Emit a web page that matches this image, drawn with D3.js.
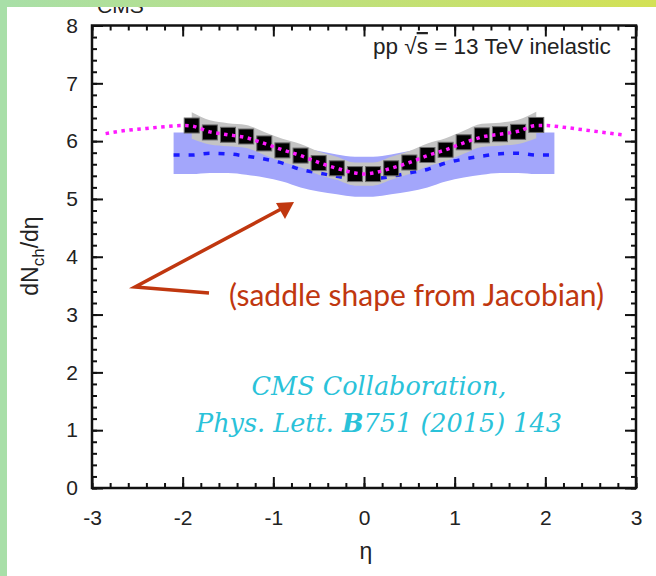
<!DOCTYPE html>
<html>
<head>
<meta charset="utf-8">
<script src="https://cdn.jsdelivr.net/npm/d3@7"></script>
<style>
  body { margin: 0; background: #fff; }
  svg text { font-family: "Liberation Sans", Arial, sans-serif; }
</style>
</head>
<body>
<div id="chart"></div>
<script>
// CMS measured points (pseudorapidity bins, |eta| < 2)
var etaPoints = [-1.9, -1.7, -1.5, -1.3, -1.1, -0.9, -0.7, -0.5, -0.3, -0.1,
                  0.1, 0.3, 0.5, 0.7, 0.9, 1.1, 1.3, 1.5, 1.7, 1.9];
var dNdEta = [6.27, 6.15, 6.11, 6.08, 5.96, 5.84, 5.75, 5.62, 5.53, 5.43,
              5.43, 5.53, 5.63, 5.76, 5.85, 5.98, 6.10, 6.12, 6.16, 6.28];
var sysErr = [0.23, 0.21, 0.20, 0.20, 0.20, 0.20, 0.20, 0.20, 0.20, 0.20,
              0.20, 0.20, 0.20, 0.20, 0.20, 0.20, 0.20, 0.20, 0.21, 0.23];

// model band (blue) with its central dashed line
var modelEta = [-2.1, -1.9, -1.7, -1.5, -1.3, -1.1, -0.9, -0.7, -0.5, -0.3, -0.1,
                 0.1, 0.3, 0.5, 0.7, 0.9, 1.1, 1.3, 1.5, 1.7, 1.9, 2.1];
var modelMid = [5.76, 5.76, 5.79, 5.78, 5.74, 5.69, 5.62, 5.51, 5.45, 5.39, 5.35,
                5.35, 5.39, 5.45, 5.51, 5.62, 5.69, 5.74, 5.78, 5.79, 5.76, 5.76];
var modelHi  = [6.15, 6.15, 6.17, 6.16, 6.12, 6.07, 6.00, 5.90, 5.83, 5.77, 5.73,
                5.73, 5.77, 5.83, 5.90, 6.00, 6.07, 6.12, 6.16, 6.17, 6.15, 6.15];
var modelLo  = [5.43, 5.43, 5.45, 5.45, 5.42, 5.37, 5.30, 5.20, 5.13, 5.08, 5.04,
                5.04, 5.08, 5.13, 5.20, 5.30, 5.37, 5.42, 5.45, 5.45, 5.43, 5.43];

// magenta dotted curve
var curveEta = [-2.85, -2.6, -2.4, -2.2, -2.0, -1.9, -1.7, -1.5, -1.3, -1.1, -0.9, -0.7, -0.5, -0.3, -0.1, 0,
                 0.1, 0.3, 0.5, 0.7, 0.9, 1.1, 1.3, 1.5, 1.7, 1.9, 2.0, 2.2, 2.4, 2.6, 2.85];
var curveVal = [6.13, 6.19, 6.22, 6.25, 6.27, 6.26, 6.16, 6.11, 6.06, 5.96, 5.85, 5.75, 5.63, 5.53, 5.45, 5.43,
                5.45, 5.53, 5.63, 5.75, 5.85, 5.97, 6.07, 6.12, 6.17, 6.27, 6.27, 6.24, 6.20, 6.16, 6.11];

var xTicks = [-3, -2, -1, 0, 1, 2, 3];
var yTicks = [0, 1, 2, 3, 4, 5, 6, 7, 8];

function init() {
    var w = 656, h = 576;
    var left = 92, right = 636, top = 25.5, bottom = 488;

    var svg = d3.select("#chart").append("svg")
        .attr("width", w).attr("height", h);

    var defs = svg.append("defs");
    var grad = defs.append("linearGradient").attr("id", "topbar");
    grad.append("stop").attr("offset", "0%").attr("stop-color", "#a8dfa8");
    grad.append("stop").attr("offset", "100%").attr("stop-color", "#d3e155");

    var xScale = d3.scaleLinear().domain([-3, 3]).range([left, right]);
    var yScale = d3.scaleLinear().domain([0, 8]).range([bottom, top]);

    // CMS label peeking under the top bar
    svg.append("text")
        .attr("x", 97).attr("y", 13)
        .style("font-size", "21px").attr("fill", "#222")
        .text("CMS");

    // model band
    var band = d3.area()
        .x(function(d, i) { return xScale(modelEta[i]); })
        .y0(function(d, i) { return yScale(modelLo[i]); })
        .y1(function(d, i) { return yScale(modelHi[i]); })
        .curve(d3.curveMonotoneX);
    svg.append("path").datum(modelEta)
        .attr("d", band)
        .attr("fill", "#a3a6fb");

    // systematic band around points
    var sysBand = d3.area()
        .x(function(d, i) { return xScale(etaPoints[i]); })
        .y0(function(d, i) { return yScale(dNdEta[i] - sysErr[i]); })
        .y1(function(d, i) { return yScale(dNdEta[i] + sysErr[i]); })
        .curve(d3.curveMonotoneX);
    svg.append("path").datum(etaPoints)
        .attr("d", sysBand)
        .attr("fill", "#c4c4c4");

    // dashed model line
    var midLine = d3.line()
        .x(function(d, i) { return xScale(modelEta[i]); })
        .y(function(d, i) { return yScale(modelMid[i]); })
        .curve(d3.curveMonotoneX);
    svg.append("path").datum(modelEta)
        .attr("d", midLine)
        .attr("fill", "none")
        .attr("stroke", "#1a1aff")
        .attr("stroke-width", 3.5)
        .attr("stroke-dasharray", "6,9");

    // data squares
    svg.selectAll("rect.pt").data(etaPoints).enter().append("rect")
        .attr("class", "pt")
        .attr("x", function(d) { return xScale(d) - 7.5; })
        .attr("y", function(d, i) { return yScale(dNdEta[i]) - 7.5; })
        .attr("width", 15).attr("height", 15)
        .attr("fill", "#000")
        .attr("stroke", "#6a6a6a")
        .attr("stroke-width", 1);

    // magenta dotted curve
    var magLine = d3.line()
        .x(function(d, i) { return xScale(curveEta[i]); })
        .y(function(d, i) { return yScale(curveVal[i]); })
        .curve(d3.curveMonotoneX);
    svg.append("path").datum(curveEta)
        .attr("d", magLine)
        .attr("fill", "none")
        .attr("stroke", "#ff1aff")
        .attr("stroke-width", 3.5)
        .attr("stroke-dasharray", "3.5,4.5");

    // axes: ticks point inward on all four sides
    var minorX = d3.range(-30, 31, 2).map(function(v) { return v / 10; });
    var minorY = d3.range(0, 41).map(function(v) { return v / 5; });
    var plain = function(d) { return String(d); };   // hyphen minus like the original

    function addAxis(axis, tx, ty, labels) {
        var g = svg.append("g")
            .attr("transform", "translate(" + tx + "," + ty + ")")
            .call(axis);
        g.select(".domain").remove();
        g.selectAll("line").attr("stroke", "#111").attr("stroke-width", 2);
        if (!labels) g.selectAll("text").remove();
        return g;
    }

    var xb = addAxis(d3.axisBottom(xScale).tickValues(xTicks).tickSizeInner(-11).tickSizeOuter(0)
                .tickPadding(22).tickFormat(plain), 0, bottom, true);
    addAxis(d3.axisBottom(xScale).tickValues(minorX).tickSizeInner(-5).tickSizeOuter(0), 0, bottom, false);
    addAxis(d3.axisTop(xScale).tickValues(xTicks).tickSizeInner(-11).tickSizeOuter(0), 0, top, false);
    addAxis(d3.axisTop(xScale).tickValues(minorX).tickSizeInner(-5).tickSizeOuter(0), 0, top, false);

    var yl = addAxis(d3.axisLeft(yScale).tickValues(yTicks).tickSizeInner(-11).tickSizeOuter(0)
                .tickPadding(14).tickFormat(plain), left, 0, true);
    addAxis(d3.axisLeft(yScale).tickValues(minorY).tickSizeInner(-5).tickSizeOuter(0), left, 0, false);
    addAxis(d3.axisRight(yScale).tickValues(yTicks).tickSizeInner(-11).tickSizeOuter(0), right, 0, false);
    addAxis(d3.axisRight(yScale).tickValues(minorY).tickSizeInner(-5).tickSizeOuter(0), right, 0, false);

    xb.selectAll("text").style("font-size", "21px").attr("fill", "#222")
        .style("font-family", "Liberation Sans, Arial, sans-serif");
    yl.selectAll("text").style("font-size", "21px").attr("fill", "#222")
        .style("font-family", "Liberation Sans, Arial, sans-serif");

    // frame
    svg.append("rect")
        .attr("x", left).attr("y", top)
        .attr("width", right - left).attr("height", bottom - top)
        .attr("fill", "none")
        .attr("stroke", "#111").attr("stroke-width", 2.5);

    // axis titles
    svg.append("text")
        .attr("x", 366).attr("y", 559)
        .attr("text-anchor", "middle")
        .style("font-size", "23px").attr("fill", "#222")
        .text("η");

    var yt = svg.append("text")
        .attr("transform", "translate(38,256) rotate(-90)")
        .attr("text-anchor", "middle")
        .style("font-size", "23px").attr("fill", "#222");
    yt.append("tspan").text("dN");
    yt.append("tspan").attr("dy", 6).style("font-size", "17px").text("ch");
    yt.append("tspan").attr("dy", -6).text("/dη");

    // legend text
    var lg = svg.append("text")
        .attr("x", 373).attr("y", 54)
        .style("font-size", "22.5px").attr("fill", "#222");
    lg.append("tspan").text("pp √");
    lg.append("tspan").style("text-decoration", "overline").text("s");
    lg.append("tspan").text(" = 13 TeV inelastic");

    // red annotation arrow
    var red = "#c0370f";
    svg.append("path")
        .attr("d", "M209,293 L135,287 L283,208")
        .attr("fill", "none")
        .attr("stroke", red)
        .attr("stroke-width", 3.5);
    svg.append("path")
        .attr("d", "M294,202 L276,203 L285,219 Z")
        .attr("fill", red);

    svg.append("text")
        .attr("x", 229).attr("y", 306)
        .style("font-family", "Lato, 'Open Sans', sans-serif")
        .style("font-size", "30px")
        .attr("fill", red)
        .text("(saddle shape from Jacobian)");

    // citation
    var cyan = "#2ac2d9";
    svg.append("text")
        .attr("x", 379).attr("y", 395)
        .attr("text-anchor", "middle")
        .style("font-family", "'DejaVu Serif', serif")
        .style("font-style", "italic")
        .style("font-size", "25.5px")
        .attr("fill", cyan)
        .text("CMS Collaboration,");
    var cite = svg.append("text")
        .attr("x", 379).attr("y", 432)
        .attr("text-anchor", "middle")
        .style("font-family", "'DejaVu Serif', serif")
        .style("font-style", "italic")
        .style("font-size", "25.5px")
        .attr("fill", cyan);
    cite.append("tspan").text("Phys. Lett. ");
    cite.append("tspan").style("font-weight", "bold").text("B");
    cite.append("tspan").text("751 (2015) 143");

    // slide decoration bars
    svg.append("rect").attr("x", 0).attr("y", 0).attr("width", w).attr("height", 7)
        .attr("fill", "url(#topbar)");
    svg.append("rect").attr("x", 0).attr("y", 0).attr("width", 7).attr("height", h)
        .attr("fill", "#a8dfa8");
}

window.onload = init;
</script>
</body>
</html>
